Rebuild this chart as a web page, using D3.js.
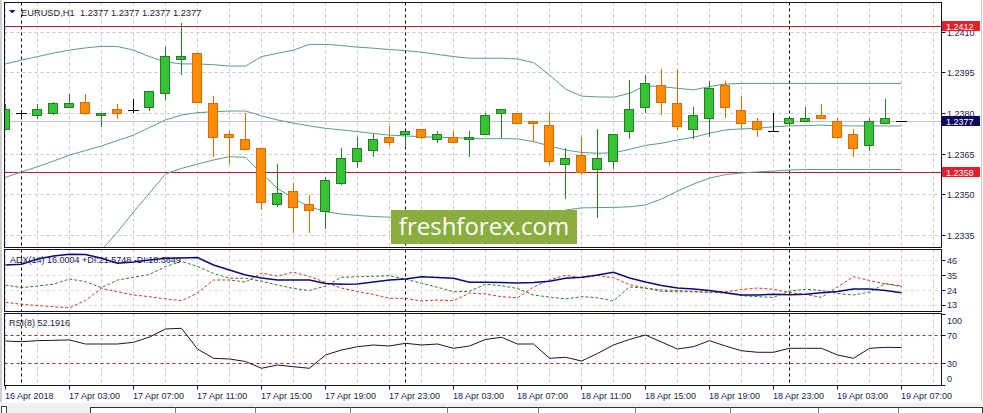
<!DOCTYPE html>
<html lang="en">
<head>
    <meta charset="UTF-8">
    <title>EURUSD,H1</title>
    <script src="https://cdn.jsdelivr.net/npm/d3@7/dist/d3.min.js"></script>
    <style>
        html, body {
            margin: 0;
            padding: 0;
            background: #ffffff;
            overflow: hidden;
        }
        svg text {
            font-family: 'Liberation Sans', Arial, sans-serif;
        }
        .axis-text {
            font-size: 9px;
            fill: #1d1d4d;
        }
    </style>
</head>
<body>

</body>
<script>
    // EURUSD H1, 16 Apr 23:00 .. 19 Apr 07:00
    let open = [1.23739, 1.23800, 1.23791, 1.23799, 1.23821, 1.23840, 1.23791, 1.23811, 1.23811, 1.23821,
        1.23870, 1.23998, 1.24020, 1.23833, 1.23721, 1.23702, 1.23669, 1.23462, 1.23510, 1.23462,
        1.23434, 1.23540, 1.23620, 1.23660, 1.23710, 1.23722, 1.23739, 1.23702, 1.23710, 1.23702,
        1.23721, 1.23799, 1.23799, 1.23770, 1.23752, 1.23610, 1.23641, 1.23592, 1.23620, 1.23731,
        1.23821, 1.23903, 1.23833, 1.23739, 1.23780, 1.23900, 1.23808, 1.23767, 1.23733, 1.23762,
        1.23767, 1.23792, 1.23770, 1.23722, 1.23679, 1.23762, 1.2377];
    let high = [1.23833, 1.23811, 1.23833, 1.23840, 1.23870, 1.23870, 1.23799, 1.23833, 1.23850, 1.23880,
        1.24042, 1.24131, 1.24020, 1.23862, 1.23734, 1.23801, 1.23669, 1.23610, 1.23540, 1.23497,
        1.23564, 1.23669, 1.23710, 1.23722, 1.23753, 1.23733, 1.23739, 1.23733, 1.23734, 1.23733,
        1.23799, 1.23811, 1.23799, 1.23770, 1.23801, 1.23669, 1.23710, 1.23739, 1.23721, 1.23922,
        1.23940, 1.23961, 1.23961, 1.23821, 1.23919, 1.23919, 1.23862, 1.23780, 1.23799, 1.23780,
        1.23821, 1.23833, 1.23780, 1.23739, 1.23780, 1.23850, 1.2377];
    let low = [1.23737, 1.23785, 1.23779, 1.23791, 1.23821, 1.23791, 1.23749, 1.23779, 1.23799, 1.23808,
        1.23848, 1.23939, 1.23840, 1.23638, 1.23610, 1.23663, 1.23441, 1.23453, 1.23355, 1.23355,
        1.23370, 1.23534, 1.23598, 1.23638, 1.23679, 1.23679, 1.23702, 1.23690, 1.23691, 1.23638,
        1.23721, 1.23706, 1.23762, 1.23691, 1.23607, 1.23481, 1.23571, 1.23411, 1.23592, 1.23702,
        1.23799, 1.23792, 1.23737, 1.23702, 1.23710, 1.23780, 1.23739, 1.23710, 1.23733, 1.23762,
        1.23767, 1.23780, 1.23702, 1.23638, 1.23660, 1.23762, 1.2377];
    let close = [1.23811, 1.23800, 1.23811, 1.23833, 1.23833, 1.23799, 1.23799, 1.23799, 1.23811, 1.23880,
        1.24010, 1.24008, 1.23840, 1.23710, 1.23710, 1.23663, 1.23470, 1.23503, 1.23451, 1.23441,
        1.23552, 1.23632, 1.23669, 1.23702, 1.23691, 1.23733, 1.23710, 1.23721, 1.23691, 1.23710,
        1.23792, 1.23811, 1.23762, 1.23762, 1.23620, 1.23632, 1.23581, 1.23632, 1.23721, 1.23811,
        1.23909, 1.23839, 1.23749, 1.23792, 1.23891, 1.23821, 1.23762, 1.23739, 1.23733, 1.23780,
        1.23780, 1.23780, 1.23710, 1.23669, 1.23770, 1.23780, 1.2377];

    // Bollinger Bands
    let bbUpper = [1.23981, 1.23995, 1.24008, 1.24021, 1.24032, 1.24040, 1.24046, 1.24045, 1.24032, 1.24008,
        1.23988, 1.23981, 1.23981, 1.23978, 1.23973, 1.23973, 1.24008, 1.24020, 1.24032, 1.24053,
        1.24053, 1.24049, 1.24043, 1.24039, 1.24034, 1.24030, 1.24024, 1.24016, 1.24008, 1.24002,
        1.24002, 1.24002, 1.23999, 1.23986, 1.23940, 1.23888, 1.23862, 1.23859, 1.23858, 1.23872,
        1.23901, 1.23897, 1.23891, 1.23885, 1.23897, 1.23907, 1.23909, 1.23909, 1.23909, 1.23909,
        1.23909, 1.23909, 1.23909, 1.23909, 1.23909, 1.23909, 1.23909];
    let bbMiddle = [1.23562, 1.23582, 1.23601, 1.23622, 1.23644, 1.23661, 1.23678, 1.23698, 1.23718, 1.23746,
        1.23774, 1.23792, 1.23801, 1.23804, 1.23807, 1.23807, 1.23789, 1.23774, 1.23762, 1.23752,
        1.23743, 1.23737, 1.23731, 1.23724, 1.23718, 1.23715, 1.23712, 1.23710, 1.23708, 1.23706,
        1.23704, 1.23705, 1.23704, 1.23694, 1.23678, 1.23663, 1.23654, 1.23651, 1.23653, 1.23665,
        1.23680, 1.23688, 1.23700, 1.23710, 1.23725, 1.23737, 1.23741, 1.23743, 1.23749, 1.23752,
        1.23753, 1.23755, 1.23753, 1.23752, 1.23752, 1.23752, 1.23752];
    let bbLower = [1.23060, 1.23090, 1.23113, 1.23139, 1.23183, 1.23235, 1.23293, 1.23360, 1.23434, 1.23504,
        1.23574, 1.23595, 1.23611, 1.23626, 1.23638, 1.23636, 1.23577, 1.23521, 1.23484, 1.23453,
        1.23435, 1.23426, 1.23421, 1.23417, 1.23415, 1.23399, 1.23401, 1.23404, 1.23409, 1.23411,
        1.23405, 1.23409, 1.23408, 1.23401, 1.23415, 1.23441, 1.23449, 1.23450, 1.23451, 1.23453,
        1.23460, 1.23482, 1.23511, 1.23537, 1.23559, 1.23572, 1.23578, 1.23582, 1.23585, 1.23589,
        1.23591, 1.23591, 1.23591, 1.23591, 1.23591, 1.23591, 1.23591];

    // ADX(14)
    let adx = [42.1, 42.6, 46.5, 48.7, 50.0, 49.8, 47.0, 43.4, 44.3, 45.8,
        47.0, 47.2, 47.5, 42.1, 38.4, 34.8, 32.6, 31.1, 31.1, 31.1,
        28.5, 28.0, 28.2, 29.6, 31.1, 31.8, 33.5, 32.9, 32.4, 29.4,
        29.4, 29.3, 28.9, 29.3, 30.2, 32.4, 33.1, 34.8, 36.8, 32.6,
        29.6, 27.1, 25.2, 24.5, 23.4, 21.8, 20.1, 20.1, 20.7, 20.3,
        20.7, 21.7, 22.7, 24.5, 24.5, 23.4, 21.8];
    let plusDI = [27.4, 25.5, 26.7, 28.0, 31.8, 29.9, 25.5, 31.1, 33.1, 35.1,
        41.0, 44.7, 41.0, 35.9, 32.4, 32.4, 30.2, 27.4, 24.9, 23.4,
        26.7, 33.1, 33.5, 33.8, 34.3, 31.8, 28.7, 25.8, 22.5, 22.8,
        28.0, 26.9, 24.9, 20.1, 18.6, 17.2, 18.9, 18.1, 15.7, 26.0,
        25.1, 23.9, 23.3, 22.7, 22.2, 21.6, 19.6, 18.9, 18.3, 23.0,
        24.3, 23.4, 21.2, 20.1, 22.3, 28.5, 26.2];
    let minusDI = [14.8, 13.3, 12.4, 11.5, 10.8, 16.1, 25.0, 22.5, 20.1, 18.9,
        17.3, 15.9, 21.6, 31.1, 31.1, 29.6, 36.2, 34.0, 36.8, 33.7,
        29.3, 25.2, 22.7, 20.5, 17.7, 17.7, 15.7, 16.4, 15.9, 21.6,
        20.8, 18.9, 18.1, 26.0, 31.1, 34.6, 32.6, 34.4, 32.8, 27.7,
        25.2, 22.7, 22.5, 22.5, 22.2, 22.5, 24.1, 25.2, 24.3, 21.9,
        20.5, 18.4, 26.0, 33.5, 30.7, 28.2, 26.9];

    // RSI(8)
    let rsi = [61.4, 60.5, 61.9, 62.4, 62.9, 57.2, 57.2, 57.2, 59.6, 67.1,
        78.4, 79.4, 50.1, 37.0, 36.0, 32.5, 22.9, 27.5, 25.1, 22.9,
        41.7, 48.7, 53.4, 55.8, 54.4, 58.2, 55.8, 57.2, 51.1, 54.4,
        63.6, 66.7, 57.2, 57.2, 37.0, 38.4, 33.2, 43.8, 55.8, 63.6,
        69.9, 60.0, 50.1, 53.4, 61.9, 54.4, 47.7, 45.5, 45.5, 51.1,
        51.1, 51.1, 41.7, 37.0, 51.1, 52.5, 52.2];

    let timeLabels = ['16 Apr 2018', '17 Apr 03:00', '17 Apr 07:00', '17 Apr 11:00', '17 Apr 15:00',
        '17 Apr 19:00', '17 Apr 23:00', '18 Apr 03:00', '18 Apr 07:00', '18 Apr 11:00', '18 Apr 15:00',
        '18 Apr 19:00', '18 Apr 23:00', '19 Apr 03:00', '19 Apr 07:00'];
    let daySeparators = [1, 25, 49];
    let priceTicks = [1.2410, 1.2395, 1.2380, 1.2365, 1.2350, 1.2335];
    let priceMarks = [{v: 1.2412, color: '#e3202a'}, {v: 1.2358, color: '#e3202a'}];
    let lastPrice = 1.2377;
    let adxTicks = [46, 35, 24, 13];
    let rsiTicks = [100, 70, 30, 0];
    let rsiLevels = [70, 30];

    let width = 983;
    let height = 413;

    let svg = d3.select('body')
        .append('svg')
        .attr('width', width)
        .attr('height', height);

    // 面板边界
    let left = 4.5, right = 941.5;
    let mainTop = 2.5, mainBottom = 247.5;
    let adxTop = 249.5, adxBottom = 311.5;
    let rsiTop = 313.5, rsiBottom = 385.5;
    let frameColor = '#101040';

    // 比例尺
    let x = d3.scaleLinear().domain([0, 56]).range([5, 901]);
    let y = d3.scaleLinear().domain([1.2335, 1.2410]).range([234.7, 31.7]);
    let yAdx = d3.scaleLinear().domain([8.4, 53.8]).range([311, 249]);
    let yRsi = d3.scaleLinear().domain([0, 100]).range([384.5, 313.7]);

    // 窗口外框
    svg.append('rect')
        .attr('x', 0).attr('y', 0).attr('width', width).attr('height', height)
        .attr('fill', '#ffffff');
    svg.append('line')
        .attr('x1', 1).attr('x2', 1).attr('y1', 0).attr('y2', 402)
        .attr('stroke', '#a0a0a0');
    svg.append('line')
        .attr('x1', 981.5).attr('x2', 981.5).attr('y1', 0).attr('y2', 402)
        .attr('stroke', '#c8c8c8');

    let defs = svg.append('defs');
    [['clip-main', mainTop, mainBottom], ['clip-adx', adxTop, adxBottom], ['clip-rsi', rsiTop, rsiBottom]]
        .forEach(p => {
            defs.append('clipPath').attr('id', p[0])
                .append('rect')
                .attr('x', left + 0.5).attr('y', p[1] + 0.5)
                .attr('width', right - left - 1).attr('height', p[2] - p[1] - 1);
        });

    function panelGrid(g, top, bottom) {
        g.selectAll('.vgrid')
            .data(d3.range(0, 59, 2))
            .enter().append('line')
            .attr('x1', d => x(d) + 0.5).attr('x2', d => x(d) + 0.5)
            .attr('y1', top).attr('y2', bottom)
            .attr('stroke', '#c8c8c8')
            .attr('stroke-dasharray', '3,3');
        g.selectAll('.sep')
            .data(daySeparators)
            .enter().append('line')
            .attr('x1', d => x(d) + 0.5).attr('x2', d => x(d) + 0.5)
            .attr('y1', top).attr('y2', bottom)
            .attr('stroke', '#000000')
            .attr('stroke-dasharray', '3,3');
    }

    // ---------- 主图 ----------
    let main = svg.append('g').attr('clip-path', 'url(#clip-main)');

    main.selectAll('.hgrid')
        .data(priceTicks)
        .enter().append('line')
        .attr('x1', left).attr('x2', right)
        .attr('y1', d => Math.round(y(d)) + 0.5).attr('y2', d => Math.round(y(d)) + 0.5)
        .attr('stroke', '#c8c8c8')
        .attr('stroke-dasharray', '3,3');

    panelGrid(main, mainTop, mainBottom);

    main.append('line')
        .attr('x1', left).attr('x2', right)
        .attr('y1', Math.round(y(lastPrice)) + 0.5).attr('y2', Math.round(y(lastPrice)) + 0.5)
        .attr('stroke', '#c4c4c4');

    main.selectAll('.level')
        .data(priceMarks)
        .enter().append('line')
        .attr('x1', left).attr('x2', right)
        .attr('y1', d => Math.round(y(d.v)) + 0.5).attr('y2', d => Math.round(y(d.v)) + 0.5)
        .attr('stroke', '#a82828');

    let bandLine = d3.line().x((d, i) => x(i) + 0.5).y(d => y(d));
    [bbUpper, bbMiddle, bbLower].forEach(band => {
        main.append('path')
            .attr('d', bandLine(band))
            .attr('fill', 'none')
            .attr('stroke', '#5a9c80')
            .attr('stroke-width', 1);
    });

    // 蜡烛
    let bars = open.map((o, i) => ({i: i, o: o, h: high[i], l: low[i], c: close[i]}));

    function barColor(d) {
        if (d.c > d.o) return {fill: '#33c433', line: '#2a7a2a'};
        if (d.c < d.o) return {fill: '#ff8c00', line: '#d96c00'};
        return {fill: 'none', line: '#000000'};
    }

    let candle = main.selectAll('.candle')
        .data(bars)
        .enter().append('g')
        .classed('candle', true);

    candle.append('line')
        .attr('x1', d => x(d.i) + 0.5).attr('x2', d => x(d.i) + 0.5)
        .attr('y1', d => y(d.h)).attr('y2', d => y(d.l))
        .attr('stroke', d => barColor(d).line)
        .attr('shape-rendering', 'crispEdges');

    candle.filter(d => d.c !== d.o)
        .append('rect')
        .attr('x', d => x(d.i) - 4.5)
        .attr('y', d => y(Math.max(d.o, d.c)))
        .attr('width', 9)
        .attr('height', d => Math.max(1, Math.abs(y(d.o) - y(d.c))))
        .attr('fill', d => barColor(d).fill)
        .attr('stroke', d => barColor(d).line)
        .attr('shape-rendering', 'crispEdges');

    candle.filter(d => d.c === d.o)
        .append('line')
        .attr('x1', d => x(d.i) - 5).attr('x2', d => x(d.i) + 6)
        .attr('y1', d => Math.round(y(d.o)) + 0.5).attr('y2', d => Math.round(y(d.o)) + 0.5)
        .attr('stroke', '#000000');

    // 水印
    svg.append('rect')
        .attr('x', 391).attr('y', 210).attr('width', 186).attr('height', 34)
        .attr('fill', '#8bad3f');
    svg.append('text')
        .attr('x', 484).attr('y', 235)
        .attr('text-anchor', 'middle')
        .style('font-family', "'Open Sans', sans-serif")
        .style('font-size', '24px')
        .attr('fill', '#ffffff')
        .text('freshforex.com');

    // 标题
    svg.append('path')
        .attr('d', 'M9,10 L15.5,10 L12.25,13.5 Z')
        .attr('fill', '#1a1a4a');
    svg.append('text')
        .attr('x', 21).attr('y', 15.5)
        .style('font-size', '9.3px')
        .style('white-space', 'pre')
        .attr('fill', '#1a1a3a')
        .text('EURUSD,H1  1.2377 1.2377 1.2377 1.2377');

    // ---------- ADX ----------
    let adxG = svg.append('g').attr('clip-path', 'url(#clip-adx)');
    adxG.selectAll('.hgrid')
        .data(adxTicks)
        .enter().append('line')
        .attr('x1', left).attr('x2', right)
        .attr('y1', d => Math.round(yAdx(d)) + 0.5).attr('y2', d => Math.round(yAdx(d)) + 0.5)
        .attr('stroke', '#dcdcdc')
        .attr('stroke-dasharray', '3,3');
    panelGrid(adxG, adxTop, adxBottom);

    let adxLine = d3.line().x((d, i) => x(i) + 0.5).y(d => yAdx(d));
    adxG.append('path').attr('d', adxLine(plusDI))
        .attr('fill', 'none').attr('stroke', '#2f7a2f').attr('stroke-dasharray', '3,2');
    adxG.append('path').attr('d', adxLine(minusDI))
        .attr('fill', 'none').attr('stroke', '#c83a2e').attr('stroke-dasharray', '3,2');
    adxG.append('path').attr('d', adxLine(adx))
        .attr('fill', 'none').attr('stroke', '#0a0a78').attr('stroke-width', 1.5);

    svg.append('text')
        .attr('x', 10).attr('y', 263)
        .style('font-size', '9px')
        .attr('fill', '#1a1a5a')
        .text('ADX(14) 16.0004 +DI:21.5748 -DI:18.3649');

    // ---------- RSI ----------
    let rsiG = svg.append('g').attr('clip-path', 'url(#clip-rsi)');
    panelGrid(rsiG, rsiTop, rsiBottom);
    rsiG.selectAll('.lvl')
        .data(rsiLevels)
        .enter().append('line')
        .attr('x1', left).attr('x2', right)
        .attr('y1', d => Math.round(yRsi(d)) + 0.5).attr('y2', d => Math.round(yRsi(d)) + 0.5)
        .attr('stroke', '#b22222')
        .attr('stroke-dasharray', '3,3');
    rsiG.append('path')
        .attr('d', d3.line().x((d, i) => x(i) + 0.5).y(d => yRsi(d))(rsi))
        .attr('fill', 'none')
        .attr('stroke', '#14143c');

    svg.append('text')
        .attr('x', 9).attr('y', 326)
        .style('font-size', '9px')
        .attr('fill', '#1a1a3a')
        .text('RSI(8) 52.1916');

    // 面板边框
    [[mainTop, mainBottom], [adxTop, adxBottom], [rsiTop, rsiBottom]].forEach(p => {
        svg.append('rect')
            .attr('x', left).attr('y', p[0])
            .attr('width', right - left).attr('height', p[1] - p[0])
            .attr('fill', 'none')
            .attr('stroke', frameColor);
    });

    // ---------- 右侧坐标 ----------
    function rightAxis(ticks, scale, fmt, top, bottom) {
        let g = svg.append('g');
        ticks.forEach(v => {
            let ty = Math.round(scale(v)) + 0.5;
            let ly = Math.max(top + 7, Math.min(bottom - 6.5, ty));
            g.append('line')
                .attr('x1', right).attr('x2', right + 4)
                .attr('y1', ty).attr('y2', ty)
                .attr('stroke', frameColor);
            g.append('text')
                .classed('axis-text', true)
                .attr('x', right + 5.5).attr('y', ly + 3.3)
                .text(fmt(v));
        });
    }
    rightAxis(priceTicks, y, d3.format('.4f'), mainTop, mainBottom);
    rightAxis(adxTicks, yAdx, d3.format('d'), adxTop, adxBottom);
    rightAxis(rsiTicks, yRsi, d3.format('d'), rsiTop, rsiBottom);

    // 价格标签
    function priceBox(v, color) {
        let by = y(v);
        svg.append('rect')
            .attr('x', 942).attr('y', Math.round(by) - 5)
            .attr('width', 38).attr('height', 10)
            .attr('fill', color);
        svg.append('text')
            .attr('x', 946).attr('y', Math.round(by) + 3.5)
            .style('font-size', '9px')
            .attr('fill', '#ffffff')
            .text(d3.format('.4f')(v));
    }
    priceMarks.forEach(m => priceBox(m.v, m.color));
    priceBox(lastPrice, '#0a0a60');

    // ---------- 时间轴 ----------
    let timeAxis = svg.append('g');
    timeLabels.forEach((t, k) => {
        let tx = x(k * 4) + 0.5;
        timeAxis.append('line')
            .attr('x1', tx).attr('x2', tx)
            .attr('y1', rsiBottom).attr('y2', rsiBottom + 4)
            .attr('stroke', frameColor);
        timeAxis.append('text')
            .classed('axis-text', true)
            .attr('x', tx - 0.5).attr('y', 398.5)
            .text(t);
    });

    // 底部标签栏
    svg.append('rect')
        .attr('x', 0).attr('y', 403).attr('width', width).attr('height', 10)
        .attr('fill', '#f0f0f0');
    svg.append('rect')
        .attr('x', 1.5).attr('y', 406.5).attr('width', 5).attr('height', 7)
        .attr('fill', '#ffffff').attr('stroke', '#404040');
    svg.append('rect')
        .attr('x', 90.5).attr('y', 407.5).attr('width', 892).attr('height', 8)
        .attr('fill', '#ffffff').attr('stroke', '#303030');
    svg.selectAll('.tabsep')
        .data([175, 255, 350, 447, 538, 635, 730, 818, 898])
        .enter().append('line')
        .attr('x1', d => d + 0.5).attr('x2', d => d + 0.5)
        .attr('y1', 407.5).attr('y2', 413)
        .attr('stroke', '#808080');
</script>
</html>
